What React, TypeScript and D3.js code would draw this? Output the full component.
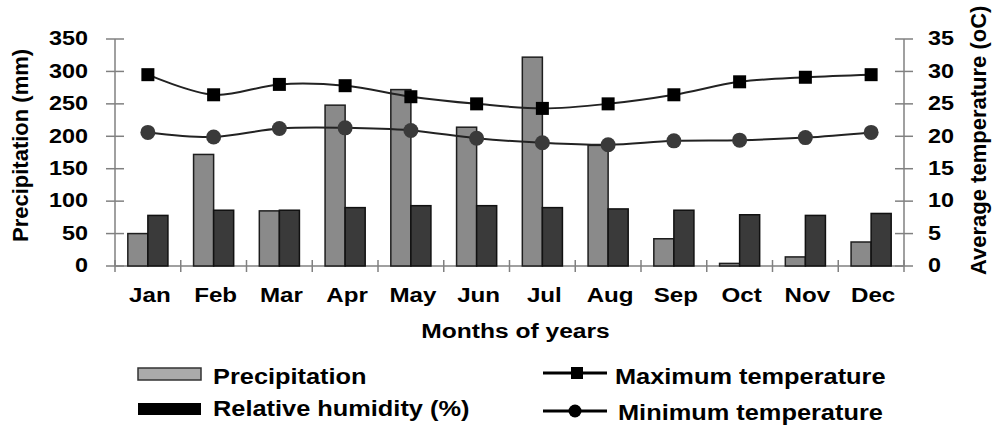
import React from "react";
import * as d3 from "d3";

const months = ["Jan", "Feb", "Mar", "Apr", "May", "Jun", "Jul", "Aug", "Sep", "Oct", "Nov", "Dec"];
const precipitation = [50, 172, 85, 248, 272, 214, 322, 186, 42, 4, 14, 37];
const humidity = [78, 86, 86, 90, 93, 93, 90, 88, 86, 79, 78, 81];
const maxTemp = [29.5, 26.4, 28.0, 27.8, 26.1, 25.0, 24.3, 25.0, 26.4, 28.4, 29.1, 29.5];
const minTemp = [20.6, 19.9, 21.2, 21.3, 20.9, 19.7, 19.0, 18.7, 19.3, 19.4, 19.8, 20.6];
const leftTicks = [0, 50, 100, 150, 200, 250, 300, 350];
const rightTicks = [0, 5, 10, 15, 20, 25, 30, 35];

const FONT = "'Liberation Sans', Arial, Helvetica, sans-serif";

const W = 996;
const H = 427;
const L = 115;
const R = 904;
const TOP = 39;
const BOT = 266;

function T(props: any) {
  const { x, y, sx = 1, rot = 0, size = 20, weight = "bold", anchor = "start", baseline, children, fill = "#000" } = props;
  return (
    <text
      transform={`translate(${x},${y}) rotate(${rot}) scale(${sx},1)`}
      fontFamily={FONT}
      fontSize={size}
      fontWeight={weight}
      textAnchor={anchor}
      dominantBaseline={baseline}
      fill={fill}
    >
      {children}
    </text>
  );
}

export default function App() {
  const x = d3.scaleBand<string>().domain(months).range([L, R]).paddingInner(0.39).paddingOuter(0.195);
  const x1 = d3.scaleBand<string>().domain(["p", "h"]).range([0, x.bandwidth()]).padding(0);
  const yL = d3.scaleLinear().domain([0, 350]).range([BOT, TOP]);
  const yR = d3.scaleLinear().domain([0, 35]).range([BOT, TOP]);
  const step = x.step();
  const cx = (i: number) => (x(months[i]) as number) + x.bandwidth() / 2;

  const line = d3
    .line<number>()
    .x((_, i) => cx(i))
    .y((d) => yR(d))
    .curve(d3.curveCatmullRom.alpha(0.5));

  const boundaries = d3.range(13).map((i) => L + i * step);

  return (
    <svg width={W} height={H} style={{ position: "absolute", left: 0, top: 0, background: "#fff" }}>
      <rect x={0} y={0} width={W} height={H} fill="#fff" />
      {/* left axis */}
      <line x1={L} x2={L} y1={TOP} y2={BOT} stroke="#808080" strokeWidth={1.5} />
      {leftTicks.map((t) => (
        <g key={"l" + t}>
          <line x1={L - 9} x2={L + 9} y1={yL(t)} y2={yL(t)} stroke="#808080" strokeWidth={1.5} />
          <T x={88} y={yL(t)} anchor="end" baseline="central" size={19.5} sx={1.2}>
            {t}
          </T>
        </g>
      ))}
      {/* right axis */}
      <line x1={R} x2={R} y1={TOP} y2={BOT} stroke="#808080" strokeWidth={1.5} />
      {rightTicks.map((t) => (
        <g key={"r" + t}>
          <line x1={R - 9} x2={R + 9} y1={yR(t)} y2={yR(t)} stroke="#808080" strokeWidth={1.5} />
          <T x={928} y={yR(t)} anchor="start" baseline="central" size={19.5} sx={1.2}>
            {t}
          </T>
        </g>
      ))}
      {/* bottom axis */}
      <line x1={L} x2={R} y1={BOT} y2={BOT} stroke="#808080" strokeWidth={1.5} />
      {boundaries.map((b, i) => (
        <line key={"b" + i} x1={b} x2={b} y1={BOT - 6} y2={BOT + 6} stroke="#808080" strokeWidth={1.5} />
      ))}
      {/* bars */}
      {months.map((m, i) => {
        const x0 = x(m) as number;
        return (
          <g key={"bar" + m}>
            <rect
              x={x0 + (x1("p") as number)}
              y={yL(precipitation[i])}
              width={x1.bandwidth()}
              height={BOT - yL(precipitation[i])}
              fill="#8a8a8a"
              stroke="#1e1e1e"
              strokeWidth={1.5}
            />
            <rect
              x={x0 + (x1("h") as number)}
              y={yL(humidity[i])}
              width={x1.bandwidth()}
              height={BOT - yL(humidity[i])}
              fill="#3a3a3a"
              stroke="#111"
              strokeWidth={1.5}
            />
          </g>
        );
      })}
      {/* lines */}
      <path d={line(maxTemp) as string} fill="none" stroke="#222" strokeWidth={2} />
      <path d={line(minTemp) as string} fill="none" stroke="#222" strokeWidth={2} />
      {maxTemp.map((v, i) => (
        <rect key={"sq" + i} x={cx(i) - 6.5} y={yR(v) - 6.5} width={13} height={13} fill="#000" />
      ))}
      {minTemp.map((v, i) => (
        <circle key={"ci" + i} cx={cx(i)} cy={yR(v)} r={7.5} fill="#3a3a3a" />
      ))}
      {/* x labels */}
      {months.map((m, i) => (
        <T key={"xl" + m} x={cx(i) + 2} y={302} anchor="middle" size={21} sx={1.15}>
          {m}
        </T>
      ))}
      <T x={(L + R) / 2 + 6} y={338} anchor="middle" size={20.5} sx={1.2}>
        Months of years
      </T>
      {/* axis titles */}
      <T x={28} y={242} rot={-90} size={22} anchor="start">
        Precipitation (mm)
      </T>
      <T x={986} y={275} rot={-90} size={22} anchor="start">
        Average temperature (oC)
      </T>
      {/* legend */}
      <rect x={138} y={368} width={63} height={12} fill="#aaaaaa" stroke="#333" strokeWidth={1.5} />
      <T x={213} y={384} size={21.5} sx={1.18}>
        Precipitation
      </T>
      <rect x={138} y={403} width={63} height={12} fill="#000" />
      <T x={213} y={416} size={21.5} sx={1.18}>
        Relative humidity (%)
      </T>
      <line x1={543} x2={607} y1={373} y2={373} stroke="#000" strokeWidth={3} />
      <rect x={571} y={367} width={12} height={12} fill="#000" />
      <T x={615} y={384} size={21.5} sx={1.18}>
        Maximum temperature
      </T>
      <line x1={543} x2={607} y1={411} y2={411} stroke="#000" strokeWidth={3} />
      <circle cx={575} cy={411} r={6.5} fill="#000" />
      <T x={618} y={420} size={21.5} sx={1.18}>
        Minimum temperature
      </T>
    </svg>
  );
}
